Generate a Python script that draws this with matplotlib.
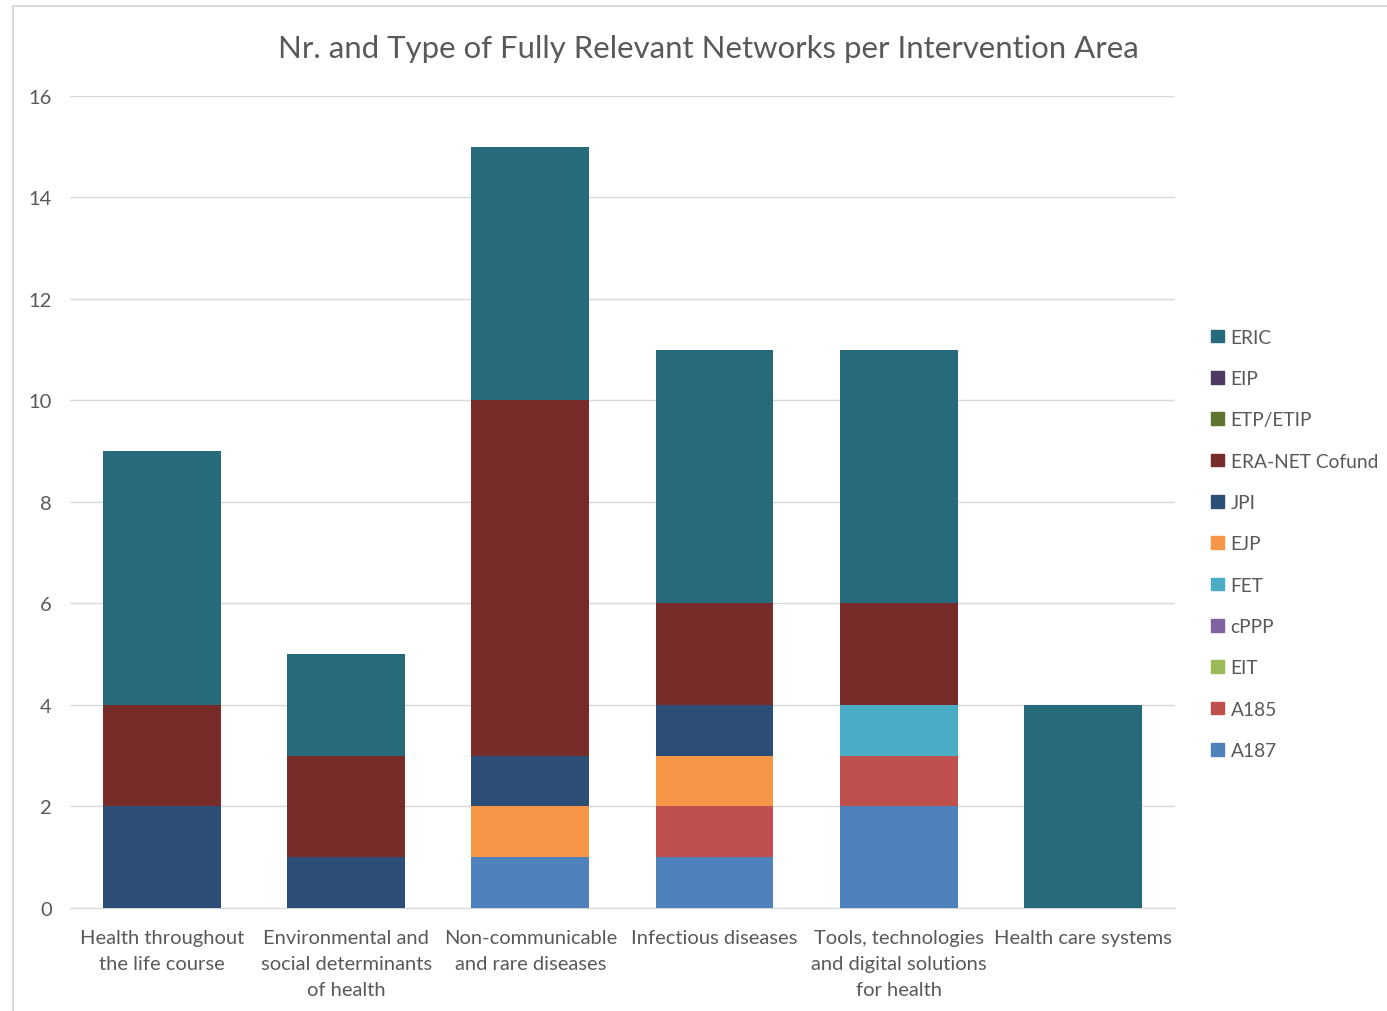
import matplotlib.pyplot as plt
import matplotlib.patches as mpatches
import numpy as np

plt.rcParams['font.family'] = ['Lato', 'DejaVu Sans']

categories = ["Health throughout\nthe life course",
              "Environmental and\nsocial determinants\nof health",
              "Non-communicable\nand rare diseases",
              "Infectious diseases",
              "Tools, technologies\nand digital solutions\nfor health",
              "Health care systems"]

# stacked from bottom to top
series = ["A187", "A185", "EIT", "cPPP", "FET", "EJP", "JPI",
          "ERA-NET Cofund", "ETP/ETIP", "EIP", "ERIC"]
A187 = [0, 0, 1, 1, 2, 0]
A185 = [0, 0, 0, 1, 1, 0]
EIT = [0, 0, 0, 0, 0, 0]
cPPP = [0, 0, 0, 0, 0, 0]
FET = [0, 0, 0, 0, 1, 0]
EJP = [0, 0, 1, 1, 0, 0]
JPI = [2, 1, 1, 1, 0, 0]
ERA_NET = [2, 2, 7, 2, 2, 0]
ETP = [0, 0, 0, 0, 0, 0]
EIP = [0, 0, 0, 0, 0, 0]
ERIC = [5, 2, 5, 5, 5, 4]
values = [A187, A185, EIT, cPPP, FET, EJP, JPI, ERA_NET, ETP, EIP, ERIC]

colors = ["#4F81BD", "#C0504D", "#9BBB59", "#8064A2", "#4BACC6", "#F79646",
          "#2C4D75", "#772C2A", "#5F7530", "#4D3B62", "#276A7C"]

fig = plt.figure(figsize=(13.87, 10.12), dpi=100)
ax = fig.add_axes([0.0505, 0.1018, 0.7965, 0.8024])

x = np.arange(len(categories))
bottom = np.zeros(len(categories))
handles = []
for name, vals, c in zip(series, values, colors):
    ax.bar(x, vals, 0.64, bottom=bottom, color=c, zorder=3)
    bottom += np.array(vals)
    handles.append(mpatches.Patch(color=c, label=name))

ax.set_xlim(-0.5, len(categories) - 0.5)
ax.set_ylim(0, 16)
ax.set_yticks(range(0, 17, 2))
ax.grid(axis='y', color='#D9D9D9', linewidth=1, zorder=0)
for s in ['top', 'right', 'left']:
    ax.spines[s].set_visible(False)
ax.spines['bottom'].set_color('#D9D9D9')
ax.tick_params(length=0, colors='#595959', labelsize=14.5)
ax.tick_params(axis='y', pad=13)
ax.tick_params(axis='x', pad=15)
ax.set_xticks(x)
ax.set_xticklabels(categories, linespacing=1.65)

fig.text(0.511, 0.952, "Nr. and Type of Fully Relevant Networks per Intervention Area",
         ha='center', va='center', fontsize=22.4, color='#595959')

leg = fig.legend(handles=handles[::-1], loc='center left',
                 bbox_to_anchor=(0.8665, 0.4615), frameon=False,
                 fontsize=13.8, labelcolor='#595959',
                 handlelength=0.65, handleheight=0.65, handletextpad=0.35,
                 labelspacing=1.27, borderpad=0)

# chart area border
fig.patches.append(mpatches.Rectangle((13 / 1387, -0.01), 1.1, 1 - 7 / 1012 + 0.01,
                                      transform=fig.transFigure, fill=False,
                                      edgecolor='#D9D9D9', linewidth=1.5))

fig.savefig("out.png", dpi=100)
